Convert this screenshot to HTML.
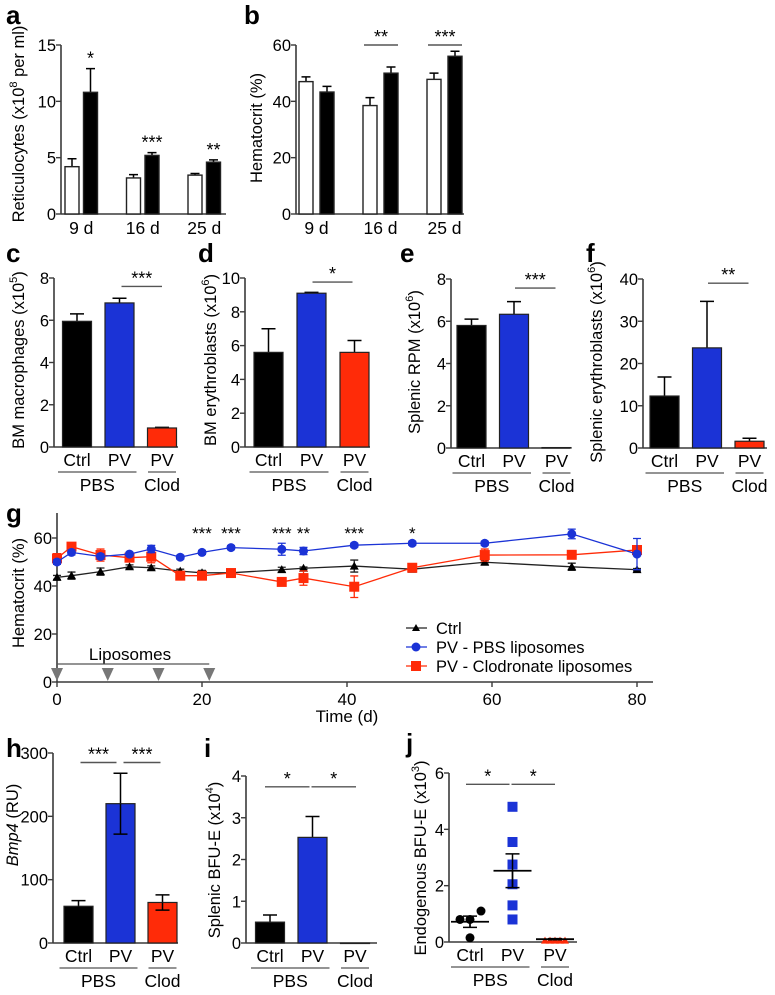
<!DOCTYPE html>
<html><head><meta charset="utf-8"><style>
html,body{margin:0;padding:0;background:#fff;}
svg{display:block;font-family:"Liberation Sans",Arial,sans-serif;}
.lt{font-size:26px;font-weight:bold;}
.tt{font-size:16.5px;}
</style></head><body>
<svg id="fig" width="775" height="995" viewBox="0 0 775 995" xmlns="http://www.w3.org/2000/svg">
<rect width="775" height="995" fill="#fff"/>
<text class="lt" x="6" y="24">a</text>
<text class="lt" x="244" y="24">b</text>
<text class="lt" x="6" y="262">c</text>
<text class="lt" x="198" y="262">d</text>
<text class="lt" x="400" y="262">e</text>
<text class="lt" x="586" y="262">f</text>
<text class="lt" x="6" y="522">g</text>
<text class="lt" x="6" y="757">h</text>
<text class="lt" x="204" y="757">i</text>
<text class="lt" x="406" y="752">j</text>

<text class="tt" text-anchor="middle" transform="translate(24,124) rotate(-90)">Reticulocytes (x10<tspan dy="-7" font-size="11">8</tspan><tspan dy="7"> per ml)</tspan></text>
<text class="tt" text-anchor="middle" transform="translate(262,128) rotate(-90)">Hematocrit (%)</text>
<text class="tt" text-anchor="middle" transform="translate(24,360) rotate(-90)">BM macrophages (x10<tspan dy="-7" font-size="11">5</tspan><tspan dy="7">)</tspan></text>
<text class="tt" text-anchor="middle" transform="translate(216,360) rotate(-90)">BM erythroblasts (x10<tspan dy="-7" font-size="11">6</tspan><tspan dy="7">)</tspan></text>
<text class="tt" text-anchor="middle" transform="translate(420,362) rotate(-90)">Splenic  RPM (x10<tspan dy="-7" font-size="11">6</tspan><tspan dy="7">)</tspan></text>
<text class="tt" text-anchor="middle" transform="translate(602,362) rotate(-90)">Splenic erythroblasts (x10<tspan dy="-7" font-size="11">6</tspan><tspan dy="7">)</tspan></text>
<text class="tt" text-anchor="middle" transform="translate(24,593) rotate(-90)">Hematocrit (%)</text>
<text class="tt" text-anchor="middle" transform="translate(18,825) rotate(-90)"><tspan font-style="italic">Bmp4</tspan> (RU)</text>
<text class="tt" text-anchor="middle" transform="translate(220,860) rotate(-90)">Splenic BFU-E (x10<tspan dy="-7" font-size="11">4</tspan><tspan dy="7">)</tspan></text>
<text class="tt" text-anchor="middle" transform="translate(426,858) rotate(-90)">Endogenous BFU-E (x10<tspan dy="-7" font-size="11">3</tspan><tspan dy="7">)</tspan></text>
<text x="347" y="722" text-anchor="middle" font-size="17">Time (d)</text>
</svg>
<script>
// ---- data ----
const abCats = ['9 d','16 d','25 d'];
const aWhite = [4.2, 3.2, 3.45];
const aWhiteErr = [0.7, 0.3, 0.15];
const aBlack = [10.8, 5.2, 4.6];
const aBlackErr = [2.1, 0.25, 0.2];
const aStars = ['*','***','**'];
const aTicks = [0,5,10,15];
const bWhite = [47, 38.5, 47.8];
const bWhiteErr = [1.7, 2.8, 2.2];
const bBlack = [43.3, 50, 56];
const bBlackErr = [2, 2.2, 1.8];
const bTicks = [0,20,40,60];
const grpCats = ['Ctrl','PV','PV'];
const cVals = [5.95, 6.82, 0.9];
const cErrs = [0.35, 0.22, 0.03];
const cTicks = [0,2,4,6,8];
const dVals = [5.6, 9.1, 5.6];
const dErrs = [1.4, 0.05, 0.7];
const dTicks = [0,2,4,6,8,10];
const eVals = [5.8, 6.33, 0.02];
const eErrs = [0.3, 0.6, 0];
const eTicks = [0,2,4,6,8];
const fVals = [12.3, 23.7, 1.6];
const fErrs = [4.5, 11, 0.7];
const fTicks = [0,10,20,30,40];
const hVals = [58, 220, 64];
const hErrs = [9, 48, 12];
const hTicks = [0,100,200,300];
const iVals = [0.5, 2.53, 0];
const iErrs = [0.17, 0.5, 0];
const iTicks = [0,1,2,3,4];
const jCtrlPts = [0.8, 0.8, 1.1, 0.15];
const jPvPts = [4.8, 3.55, 2.75, 2.05, 1.3, 0.8];
const jClodPts = [0.05, 0.05, 0.05, 0.05, 0.05];
const jMeans = [0.72, 2.53, 0.1];
const jSems = [0.2, 0.6, 0.02];
const jTicks = [0,2,4,6];
const gDays = [0,2,6,10,13,17,20,24,31,34,41,49,59,71,80];
const gCtrl = [43.6,44.3,46,48,47.6,46.2,45.5,45.5,46.8,47.4,48.3,47,49.9,48,46.8];
const gCtrlErr = [0.8,1.5,1.5,0.8,0.8,0.8,1,0.5,1,0.5,2.5,0.8,0.8,1.5,0.5];
const gPbs = [50,54,52.3,53.3,55.4,52,54,56,55.3,54.6,57,57.8,57.8,61.7,53.3];
const gPbsErr = [1,1,1,0.8,1.5,0.8,0.8,0.8,2.5,1.5,0.8,0.8,0.8,2,6.5];
const gClod = [51.5,56.4,52.9,51.8,52.2,44.3,44.3,45.4,41.7,43.3,39.7,47.6,52.9,53,55];
const gClodErr = [2,1,2.5,1,2.5,1,1,1,1,3,4.5,1,2.5,1.5,1.5];
const gTicksY = [0,20,40,60];
const gTicksX = [0,20,40,60,80];
const gSigDays = [20,24,31,34,41,49];
const gSigLabels = ['***','***','***','**','***','*'];
const gLipoDays = [0,7,14,21];

const BLUE='#1b33d6', RED='#ff2b08', AX='#3a3a3a';
const NS='http://www.w3.org/2000/svg';
const svg=document.getElementById('fig');
function mk(tag, attrs){ const e=document.createElementNS(NS,tag); for(const k in attrs) e.setAttribute(k,attrs[k]); svg.appendChild(e); return e; }

function axes(p, y){
  const l1=mk('line',{x1:p.ax,y1:p.ytop,x2:p.ax,y2:p.y0,stroke:AX,'stroke-width':1.6});
  
  
  const l2=mk('line',{x1:p.ax,y1:p.y0,x2:p.xEnd,y2:p.y0,stroke:AX,'stroke-width':1.6});
  
  
  p.ticks.forEach(t=>{
    const tk=mk('line',{x1:p.ax-5,y1:y(t),x2:p.ax,y2:y(t),stroke:AX,'stroke-width':1.4});
    
    
    const tl=mk('text',{x:p.ax-5,y:y(t)+6,'text-anchor':'end','font-size':16.5});
    tl.textContent=t;
    
    
  });
}
function errBar(x,yv,yTop,yBot,cw,color,id){
  const e=mk('path',{d:`M${x},${yBot}V${yTop}M${x-cw/2},${yTop}H${x+cw/2}`+(yBot!==yv?`M${x-cw/2},${yBot}H${x+cw/2}`:''),stroke:color,'stroke-width':1.5,fill:'none'});
  
  
}
function sig(x1,x2,yy,label,id){
  const l=mk('line',{x1:x1,y1:yy,x2:x2,y2:yy,stroke:'#555','stroke-width':1.4});
  
  
  const t=mk('text',{x:(x1+x2)/2,y:yy-2,'text-anchor':'middle','font-size':18});
  t.textContent=label;
  
  
}
function groupLabels(p, cx){
  grpCats.forEach((c,i)=>{
    const t=mk('text',{x:cx(i),y:p.y0+19,'text-anchor':'middle','font-size':17.5});
    t.textContent=c;
    
    
  });
  const u1=mk('line',{x1:cx(0)-19,y1:p.y0+25,x2:cx(1)+17,y2:p.y0+25,stroke:'#555','stroke-width':1.3});
  
  
  const u2=mk('line',{x1:cx(2)-14,y1:p.y0+25,x2:cx(2)+14,y2:p.y0+25,stroke:'#555','stroke-width':1.3});
  
  
  const t1=mk('text',{x:(cx(0)+cx(1))/2-1,y:p.y0+44,'text-anchor':'middle','font-size':17.5});
  t1.textContent='PBS';
  
  
  const t2=mk('text',{x:cx(2),y:p.y0+44,'text-anchor':'middle','font-size':17.5});
  t2.textContent='Clod';
  
  
}

// ---- panels a, b ----
function pairPanel(p, white, whiteErr, black, blackErr){
  const y=v=>p.y0-v/p.max*(p.y0-p.ytop);
  const cx=i=>p.ax+p.first+i*p.step;
  axes(p,y);
  abCats.forEach((c,i)=>{
    [[white,whiteErr,'#fff',0,'white'],[black,blackErr,'#000',p.off,'black']].forEach(s=>{
      const x=cx(i)+s[3], v=s[0][i];
      errBar(x,y(v),y(v+s[1][i]),y(v),9,'#000',p.id+'-error-bar');
      const r=mk('rect',{x:x-7,y:y(v),width:14,height:p.y0-y(v),fill:s[2],stroke:'#222','stroke-width':1.4});
      
      
    });
    const t=mk('text',{x:cx(i)+p.off/2,y:p.y0+20,'text-anchor':'middle','font-size':17.5});
    t.textContent=c;
    
    
  });
  return {y,cx};
}
const pa=pairPanel({id:'a',ax:61,y0:214,ytop:45,max:15,ticks:aTicks,xEnd:226,first:11,step:61.5,off:18.5},aWhite,aWhiteErr,aBlack,aBlackErr);
aStars.forEach((s,i)=>{
  const t=mk('text',{x:pa.cx(i)+18.5,y:pa.y(aBlack[i]+aBlackErr[i])-4,'text-anchor':'middle','font-size':18});
  t.textContent=s;
  
  
});
const pb=pairPanel({id:'b',ax:296,y0:214,ytop:45,max:60,ticks:bTicks,xEnd:464,first:10,step:64,off:21},bWhite,bWhiteErr,bBlack,bBlackErr);
sig(pb.cx(1)-6,pb.cx(1)+28,pb.y(60),'**','b-sig-16d');
sig(pb.cx(2)-6,pb.cx(2)+28,pb.y(60),'***','b-sig-25d');

// ---- bar panels ----
function barPanel(p, vals, errs, twoSided){
  const y=v=>p.y0-v/p.max*(p.y0-p.ytop);
  const cx=i=>p.ax+p.first+i*p.step;
  axes(p,y);
  const cols=['#000',BLUE,RED];
  vals.forEach((v,i)=>{
    if(errs[i]>0) errBar(cx(i),y(v),y(v+errs[i]),twoSided?y(v-errs[i]):y(v),14,'#000',p.id+'-error-bar');
    const r=mk('rect',{x:cx(i)-14.5,y:y(v),width:29,height:Math.max(p.y0-y(v),0.5),fill:cols[i],stroke:'#222','stroke-width':1.2});
    
    
    if(twoSided && errs[i]>0){
      const e=mk('path',{d:`M${cx(i)},${y(v)}V${y(v-errs[i])}M${cx(i)-7},${y(v-errs[i])}H${cx(i)+7}`,stroke:'#000','stroke-width':1.5});
      
      
    }
  });
  groupLabels(p,cx);
  return {y,cx};
}
const pc=barPanel({id:'c',ax:54,y0:447,ytop:278,max:8,ticks:cTicks,xEnd:178,first:23,step:42.5},cVals,cErrs,false);
sig(pc.cx(1)+2,pc.cx(2),pc.y(7.6),'***','c-sig');
const pd=barPanel({id:'d',ax:245,y0:447,ytop:278,max:10,ticks:dTicks,xEnd:370,first:23.5,step:43},dVals,dErrs,false);
sig(pd.cx(1)+1,pd.cx(2)-2,pd.y(9.76),'*','d-sig');
const pe=barPanel({id:'e',ax:451,y0:448,ytop:279,max:8,ticks:eTicks,xEnd:570,first:20.5,step:42.5},eVals,eErrs,false);
sig(pe.cx(1)+1,pe.cx(2)-1,pe.y(7.57),'***','e-sig');
const pf=barPanel({id:'f',ax:643,y0:448,ytop:279,max:40,ticks:fTicks,xEnd:767,first:21.5,step:42.5},fVals,fErrs,false);
sig(pf.cx(1)+1,pf.cx(2)-1,pf.y(39),'**','f-sig');
const ph=barPanel({id:'h',ax:53,y0:943,ytop:753,max:300,ticks:hTicks,xEnd:178,first:25.5,step:42},hVals,hErrs,true);
sig(ph.cx(0)+2,ph.cx(1)-4,ph.y(285),'***','h-sig-1');
sig(ph.cx(1)+3,ph.cx(2)-2,ph.y(285),'***','h-sig-2');
const pi=barPanel({id:'i',ax:246,y0:943,ytop:776,max:4,ticks:iTicks,xEnd:377,first:24,step:42.5},iVals,iErrs,false);
sig(pi.cx(0)-5,pi.cx(1)-3,pi.y(3.74),'*','i-sig-1');
sig(pi.cx(1)-1,pi.cx(2)+1,pi.y(3.74),'*','i-sig-2');

// ---- panel j ----
(function(){
  const p={id:'j',ax:449,y0:942,ytop:773,max:6,ticks:jTicks,xEnd:577};
  const y=v=>p.y0-v/p.max*(p.y0-p.ytop);
  const cx=i=>p.ax+21+i*42.5;
  axes(p,y);
  const offC=[-10,0,11,0];
  jCtrlPts.forEach((v,k)=>{
    const c=mk('circle',{cx:cx(0)+offC[k],cy:y(v),r:4.5,fill:'#000'});
    
    
  });
  jPvPts.forEach(v=>{
    const s=mk('rect',{x:cx(1)-5,y:y(v)-5,width:10,height:10,fill:BLUE});
    
    
  });
  jClodPts.forEach((v,k)=>{
    const x=cx(2)-10+k*5;
    const t=mk('path',{d:`M${x-4},${y(v)+3}L${x},${y(v)-4}L${x+4},${y(v)+3}Z`,fill:RED});
    
    
  });
  jMeans.forEach((m,i)=>{
    const l=mk('line',{x1:cx(i)-19,y1:y(m),x2:cx(i)+19,y2:y(m),stroke:'#000','stroke-width':1.8});
    
    
    errBar(cx(i),y(m),y(m+jSems[i]),y(m-jSems[i]),14,'#000','j-sem-bar');
    const e=mk('path',{d:`M${cx(i)},${y(m)}V${y(m-jSems[i])}`,stroke:'#000','stroke-width':1.5});
    
    
  });
  groupLabels(p,cx);
  sig(cx(0)-4,cx(1)-3,y(5.6),'*','j-sig-1');
  sig(cx(1)-1,cx(2),y(5.6),'*','j-sig-2');
})();

// ---- panel g ----
(function(){
  const p={id:'g',ax:57,y0:682,ytop:513,ticks:gTicksY,xEnd:653};
  const x=d=>57+d*7.25;
  const y=v=>682-v*2.4;
  axes(p,y);
  gTicksX.forEach(t=>{
    const tk=mk('line',{x1:x(t),y1:682,x2:x(t),y2:687,stroke:AX,'stroke-width':1.4});
    
    
    const tl=mk('text',{x:x(t),y:705,'text-anchor':'middle','font-size':17});
    tl.textContent=t;
    
    
  });
  const ll=mk('line',{x1:x(0),y1:664,x2:x(gLipoDays[gLipoDays.length-1]),y2:664,stroke:'#555','stroke-width':1.3});
  
  
  const lt=mk('text',{x:130,y:660,'text-anchor':'middle','font-size':17});
  lt.textContent='Liposomes';
  
  
  gLipoDays.forEach(d=>{
    const a=mk('path',{d:`M${x(d)-6},${668}L${x(d)+6},${668}L${x(d)},${681}Z`,fill:'#777'});
    
    
  });
  const series=[[gCtrl,gCtrlErr,'#222','ctrl'],[gClod,gClodErr,RED,'clod'],[gPbs,gPbsErr,BLUE,'pbs']];
  series.forEach(s=>{
    const pl=mk('polyline',{points:gDays.map((d,k)=>x(d)+','+y(s[0][k])).join(' '),fill:'none',stroke:s[2],'stroke-width':1.3});
    
    
    gDays.forEach((d,k)=>{
      const v=s[0][k], e=s[1][k];
      const eb=mk('path',{d:`M${x(d)},${y(v+e)}V${y(v-e)}M${x(d)-4},${y(v+e)}H${x(d)+4}M${x(d)-4},${y(v-e)}H${x(d)+4}`,stroke:s[2],'stroke-width':1.3});
      
      
      let m;
      if(s[3]==='ctrl') m=mk('path',{d:`M${x(d)-4.5},${y(v)+3.5}L${x(d)},${y(v)-4.5}L${x(d)+4.5},${y(v)+3.5}Z`,fill:'#000'});
      else if(s[3]==='pbs') m=mk('circle',{cx:x(d),cy:y(v),r:4.5,fill:BLUE});
      else m=mk('rect',{x:x(d)-5,y:y(v)-5,width:10,height:10,fill:RED});
      
      
    });
  });
  gSigDays.forEach((d,k)=>{
    const t=mk('text',{x:x(d),y:539,'text-anchor':'middle','font-size':17});
    t.textContent=gSigLabels[k];
    
    
  });
  const leg=[['Ctrl','#222','ctrl'],['PV - PBS liposomes',BLUE,'pbs'],['PV - Clodronate liposomes',RED,'clod']];
  leg.forEach((L,k)=>{
    const yy=628+k*19, lx=416;
    const ln=mk('line',{x1:406,y1:yy,x2:427,y2:yy,stroke:L[1],'stroke-width':1.3});
    
    
    let m;
    if(L[2]==='ctrl') m=mk('path',{d:`M${lx-4},${yy+3}L${lx},${yy-4}L${lx+4},${yy+3}Z`,fill:'#000'});
    else if(L[2]==='pbs') m=mk('circle',{cx:lx,cy:yy,r:4.5,fill:BLUE});
    else m=mk('rect',{x:lx-5,y:yy-5,width:10,height:10,fill:RED});
    
    
    const t=mk('text',{x:436,y:yy+6,'font-size':16.5});
    t.textContent=L[0];
    
    
  });
})();
</script>
</body></html>
